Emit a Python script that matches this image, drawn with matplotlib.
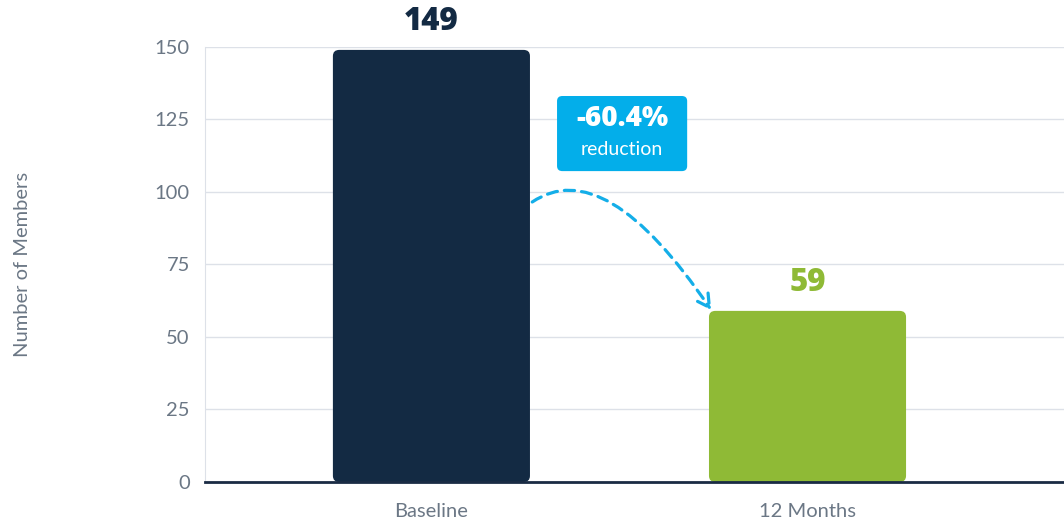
import matplotlib
matplotlib.use("Agg")
import matplotlib.pyplot as plt
from matplotlib.patches import FancyBboxPatch, FancyArrowPatch

categories = ["Baseline", "12 Months"]
members = [149, 59]
bar_colors = ["#132a43", "#8fba36"]
change_label = "-60.4%"
change_sub = "reduction"
yticks = [0, 25, 50, 75, 100, 125, 150]

plt.rcParams["font.family"] = ["Lato", "DejaVu Sans"]

fig = plt.figure(figsize=(10.64, 5.21), dpi=100)
ax = fig.add_axes([0.1927, 0.0749, 0.8073, 0.8349])

xs = list(range(len(categories)))
width = 0.524
for x, v, c in zip(xs, members, bar_colors):
    ax.add_patch(FancyBboxPatch((x - width / 2, 0), width, v,
                                boxstyle="round,pad=0,rounding_size=0.017",
                                mutation_aspect=125, fc=c, ec="none", zorder=3))
    ax.text(x, v + 4, str(v), ha="center", va="bottom", fontsize=22.5,
            fontweight="heavy", color=c, family=["Open Sans", "DejaVu Sans"])

ax.set_xlim(-0.602, 1.682)
ax.set_ylim(0, 150)
ax.set_xticks(xs)
ax.set_xticklabels(categories, fontsize=14.5, color="#6b7785")
ax.set_yticks(yticks)
ax.tick_params(axis="y", labelsize=14.5, labelcolor="#6b7785", length=0, pad=11)
ax.tick_params(axis="x", length=0, pad=15)
ax.grid(axis="y", color="#dde1e8", lw=1, zorder=0)
for s in ["top", "right"]:
    ax.spines[s].set_visible(False)
ax.spines["left"].set_color("#dde1e8")
ax.spines["bottom"].set_color("#1a2b44")
ax.spines["bottom"].set_linewidth(2)
ax.spines["bottom"].set_zorder(4)
ax.set_ylabel("Number of Members", fontsize=14.5, color="#6b7785", labelpad=0)
ax.yaxis.set_label_coords(-0.203, 0.5)

# curved dashed arrow between bars
arrow = FancyArrowPatch((xs[0] + width / 2, 96), (xs[1] - width / 2 + 0.01, 58.5),
                        connectionstyle="angle3,angleA=36,angleB=-56",
                        arrowstyle="->,head_length=9,head_width=5",
                        color="#14aee8", lw=2.3, linestyle=(0, (3.2, 2.2)), zorder=5)
ax.add_patch(arrow)

# callout box
bx, by, bw, bh = 0.334, 107.2, 0.346, 25.9
ax.add_patch(FancyBboxPatch((bx, by), bw, bh,
                            boxstyle="round,pad=0,rounding_size=0.014",
                            mutation_aspect=125, fc="#03aeea", ec="none", zorder=6))
ax.text(bx + bw / 2, by + 18.0, change_label, ha="center", va="center", fontsize=20,
        fontweight="heavy", color="white", family=["Open Sans", "DejaVu Sans"], zorder=7)
ax.text(bx + bw / 2, by + 7.4, change_sub, ha="center", va="center", fontsize=14,
        color="white", zorder=7)

fig.savefig("out.png", dpi=100)
